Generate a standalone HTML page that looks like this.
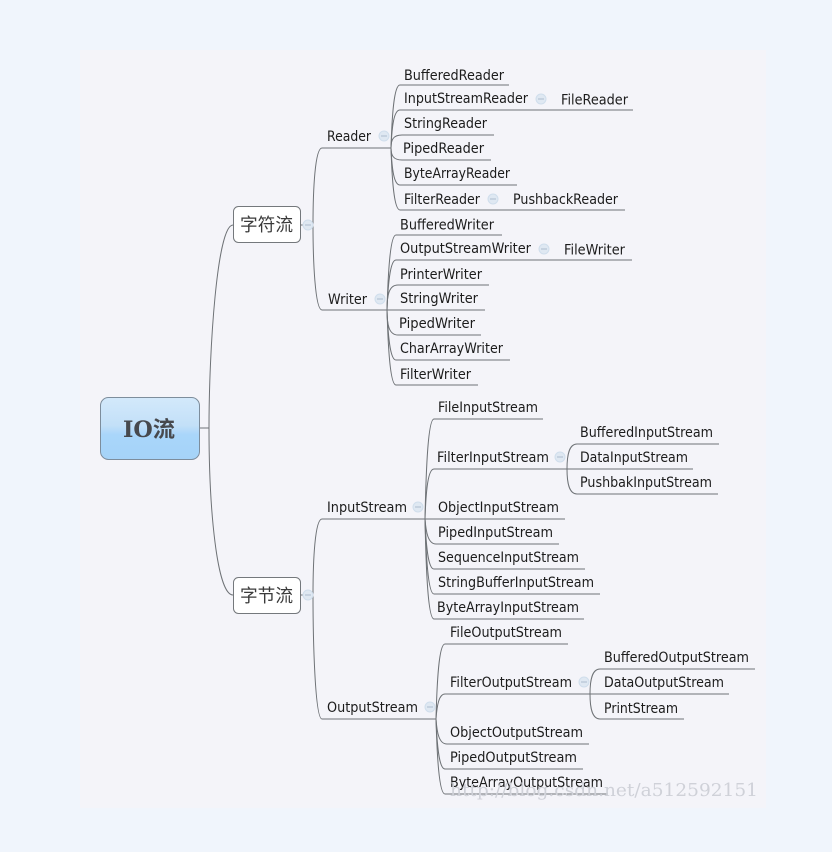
<!DOCTYPE html>
<html lang="zh">
<head>
<meta charset="utf-8">
<title>IO流</title>
<style>
html,body{margin:0;padding:0;background:#f0f5fc}
svg{display:block}
.t{font:14px "DejaVu Sans","Noto Sans CJK SC",sans-serif;fill:#1c1c1c}
.c{font:18px "Noto Sans CJK SC",sans-serif;fill:#3a3a3a}
.l{fill:none;stroke:#6e7276;stroke-width:1}
.i{fill:#dfe8f2;stroke:#d0deec;stroke-width:1}
.m{stroke:#adbdcd;stroke-width:1}
</style>
</head>
<body>
<svg xmlns="http://www.w3.org/2000/svg" width="832" height="852" viewBox="0 0 832 852">
<defs>
<linearGradient id="g" x1="0" y1="0" x2="0" y2="1">
<stop offset="0" stop-color="#d3e9fb"/>
<stop offset=".45" stop-color="#c3e0f8"/>
<stop offset=".6" stop-color="#a9d6fa"/>
<stop offset="1" stop-color="#a5d3f8"/>
</linearGradient>
</defs>
<rect width="832" height="852" fill="#f0f5fc"/>
<rect x="80" y="50" width="686" height="758" fill="#f4f4f9"/>

<g class="l">
<path d="M200 428H209"/>
<path d="M209 428C209 350 217 225 233 225"/>
<path d="M209 428C209 510 217 595 233 595"/>
<path d="M301 225H313"/>
<path d="M301 595H313"/>
<path d="M313 225C313 190 315 148 322 148H391"/>
<path d="M313 225C313 260 315 310 322 310H387"/>
<path d="M313 595C313 560 315 519 322 519H425"/>
<path d="M313 595C313 640 315 719 322 719H436"/>

<path d="M391 148C392 115 394 85 400 85H509"/>
<path d="M391 148C392 125 394 110 400 110H633"/>
<path d="M391 148C391 140 393 135 402 135H494"/>
<path d="M391 148C391 155 393 160 402 160H491"/>
<path d="M391 148C392 170 394 185 400 185H517"/>
<path d="M391 148C392 180 394 210 400 210H625"/>

<path d="M387 310C388 275 390 235 396 235H502"/>
<path d="M387 310C388 285 390 260 396 260H632"/>
<path d="M387 310C387 295 389 285 398 285H489"/>
<path d="M387 310H485"/>
<path d="M387 310C387 325 389 335 398 335H481"/>
<path d="M387 310C388 335 390 360 396 360H510"/>
<path d="M387 310C388 345 390 385 396 385H478"/>

<path d="M425 519C426 470 428 419 434 419H543"/>
<path d="M425 519C426 490 428 469 434 469H567"/>
<path d="M425 519H565"/>
<path d="M425 519C426 532 428 544 436 544H559"/>
<path d="M425 519C426 545 428 569 434 569H585"/>
<path d="M425 519C426 555 428 594 434 594H600"/>
<path d="M425 519C426 570 428 619 434 619H584"/>

<path d="M567 469C567 455 569 444 577 444H719"/>
<path d="M567 469H693"/>
<path d="M567 469C567 483 569 494 577 494H718"/>

<path d="M436 719C437 680 439 644 445 644H568"/>
<path d="M436 719C437 705 439 694 445 694H590"/>
<path d="M590 694H729"/>
<path d="M436 719C437 733 439 744 447 744H589"/>
<path d="M436 719C437 745 439 769 445 769H583"/>
<path d="M436 719C437 755 439 794 445 794H608"/>

<path d="M590 694C590 680 592 669 600 669H755"/>
<path d="M590 694C590 708 592 719 600 719H684"/>
</g>

<rect x="100.500" y="397.500" width="99" height="62" rx="8" fill="url(#g)" stroke="#7d8d9c"/>
<text x="123" y="437" font-family="'DejaVu Serif','Noto Sans CJK SC',serif" font-size="22" font-weight="700" fill="#47494d" textLength="52" lengthAdjust="spacingAndGlyphs">IO流</text>

<rect x="233.500" y="206.500" width="67" height="36" rx="5" fill="#fff" stroke="#74787c"/>
<text class="c" x="240" y="231" textLength="53" lengthAdjust="spacingAndGlyphs">字符流</text>
<rect x="233.500" y="577.500" width="67" height="36" rx="5" fill="#fff" stroke="#74787c"/>
<text class="c" x="240" y="602" textLength="53" lengthAdjust="spacingAndGlyphs">字节流</text>

<g>
<circle class="i" cx="308" cy="225" r="5"/><path class="m" d="M305 225H311"/>
<circle class="i" cx="308" cy="595" r="5"/><path class="m" d="M305 595H311"/>
<circle class="i" cx="384" cy="136" r="5"/><path class="m" d="M381 136H387"/>
<circle class="i" cx="380" cy="299" r="5"/><path class="m" d="M377 299H383"/>
<circle class="i" cx="541" cy="99" r="5"/><path class="m" d="M538 99H544"/>
<circle class="i" cx="493" cy="199" r="5"/><path class="m" d="M490 199H496"/>
<circle class="i" cx="544" cy="249" r="5"/><path class="m" d="M541 249H547"/>
<circle class="i" cx="418" cy="507" r="5"/><path class="m" d="M415 507H421"/>
<circle class="i" cx="560" cy="457" r="5"/><path class="m" d="M557 457H563"/>
<circle class="i" cx="430" cy="707" r="5"/><path class="m" d="M427 707H433"/>
<circle class="i" cx="584" cy="682" r="5"/><path class="m" d="M581 682H587"/>
</g>

<g class="t">
<text x="327" y="141" textLength="44" lengthAdjust="spacingAndGlyphs">Reader</text>
<text x="328" y="304" textLength="39" lengthAdjust="spacingAndGlyphs">Writer</text>
<text x="327" y="512" textLength="80" lengthAdjust="spacingAndGlyphs">InputStream</text>
<text x="327" y="712" textLength="91" lengthAdjust="spacingAndGlyphs">OutputStream</text>

<text x="404" y="80" textLength="100" lengthAdjust="spacingAndGlyphs">BufferedReader</text>
<text x="404" y="103" textLength="124" lengthAdjust="spacingAndGlyphs">InputStreamReader</text>
<text x="561" y="104.500" textLength="67" lengthAdjust="spacingAndGlyphs">FileReader</text>
<text x="404" y="128" textLength="83" lengthAdjust="spacingAndGlyphs">StringReader</text>
<text x="403" y="153" textLength="81" lengthAdjust="spacingAndGlyphs">PipedReader</text>
<text x="404" y="178" textLength="106" lengthAdjust="spacingAndGlyphs">ByteArrayReader</text>
<text x="404" y="204" textLength="76" lengthAdjust="spacingAndGlyphs">FilterReader</text>
<text x="513" y="204" textLength="105" lengthAdjust="spacingAndGlyphs">PushbackReader</text>

<text x="400" y="229.500" textLength="94" lengthAdjust="spacingAndGlyphs">BufferedWriter</text>
<text x="400" y="253" textLength="131" lengthAdjust="spacingAndGlyphs">OutputStreamWriter</text>
<text x="564" y="254.500" textLength="61" lengthAdjust="spacingAndGlyphs">FileWriter</text>
<text x="400" y="279" textLength="82" lengthAdjust="spacingAndGlyphs">PrinterWriter</text>
<text x="400" y="303" textLength="78" lengthAdjust="spacingAndGlyphs">StringWriter</text>
<text x="399" y="328" textLength="76" lengthAdjust="spacingAndGlyphs">PipedWriter</text>
<text x="400" y="353" textLength="103" lengthAdjust="spacingAndGlyphs">CharArrayWriter</text>
<text x="400" y="379" textLength="71" lengthAdjust="spacingAndGlyphs">FilterWriter</text>

<text x="438" y="412" textLength="100" lengthAdjust="spacingAndGlyphs">FileInputStream</text>
<text x="437" y="462" textLength="112" lengthAdjust="spacingAndGlyphs">FilterInputStream</text>
<text x="580" y="437" textLength="133" lengthAdjust="spacingAndGlyphs">BufferedInputStream</text>
<text x="580" y="462" textLength="108" lengthAdjust="spacingAndGlyphs">DataInputStream</text>
<text x="580" y="487" textLength="132" lengthAdjust="spacingAndGlyphs">PushbakInputStream</text>
<text x="438" y="512" textLength="121" lengthAdjust="spacingAndGlyphs">ObjectInputStream</text>
<text x="438" y="537" textLength="115" lengthAdjust="spacingAndGlyphs">PipedInputStream</text>
<text x="438" y="562" textLength="141" lengthAdjust="spacingAndGlyphs">SequenceInputStream</text>
<text x="438" y="587" textLength="156" lengthAdjust="spacingAndGlyphs">StringBufferInputStream</text>
<text x="437" y="612" textLength="142" lengthAdjust="spacingAndGlyphs">ByteArrayInputStream</text>

<text x="450" y="637" textLength="112" lengthAdjust="spacingAndGlyphs">FileOutputStream</text>
<text x="450" y="687" textLength="122" lengthAdjust="spacingAndGlyphs">FilterOutputStream</text>
<text x="604" y="662" textLength="145" lengthAdjust="spacingAndGlyphs">BufferedOutputStream</text>
<text x="604" y="687" textLength="120" lengthAdjust="spacingAndGlyphs">DataOutputStream</text>
<text x="604" y="713" textLength="74" lengthAdjust="spacingAndGlyphs">PrintStream</text>
<text x="450" y="737" textLength="133" lengthAdjust="spacingAndGlyphs">ObjectOutputStream</text>
<text x="450" y="762" textLength="127" lengthAdjust="spacingAndGlyphs">PipedOutputStream</text>
<text x="450" y="787" textLength="153" lengthAdjust="spacingAndGlyphs">ByteArrayOutputStream</text>
</g>

<text x="450" y="796" font-family="'DejaVu Serif','Liberation Serif',serif" font-size="18" fill="#cfd1d8" textLength="308" lengthAdjust="spacingAndGlyphs">http://blog.csdn.net/a512592151</text>
</svg>
</body>
</html>
